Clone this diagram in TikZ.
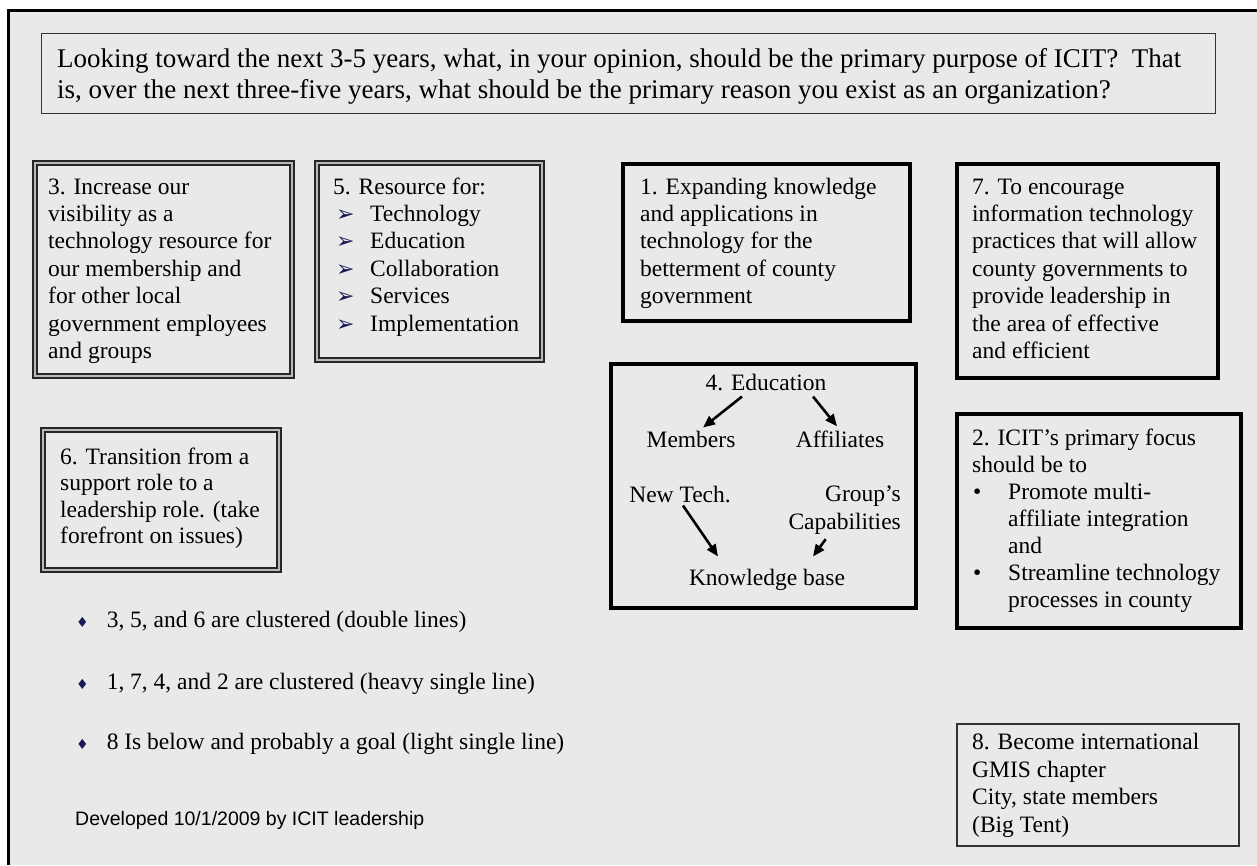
\documentclass[tikz,border=0pt]{standalone}
\usepackage{fontspec}
\setmainfont{Liberation Serif}
\newfontfamily\symfont{DejaVu Sans}
\newfontfamily\arialfont{Liberation Sans}
\usetikzlibrary{arrows.meta}
\definecolor{bg}{RGB}{233,233,233}
\definecolor{navy}{RGB}{25,25,85}
\newcommand{\arrbul}{{\symfont\fontsize{22}{22}\selectfont\color{navy}➢}}
\newcommand{\dotbul}{\makebox[36pt][l]{\hspace{1pt}•}}
\newcommand{\dia}{{\symfont\fontsize{14}{14}\selectfont\color{navy}♦}}
\begin{document}
\begin{tikzpicture}[x=1pt,y=-1pt,
  txt/.style={anchor=base west, inner sep=0pt, align=left, font=\fontsize{23.5}{27.4}\selectfont},
  lbl/.style={anchor=base, inner sep=2pt, align=center, font=\fontsize{23.5}{27.4}\selectfont},
  dbl/.style={draw=black!85, line width=1.7pt, double=gray!55, double distance=2pt},
  heavy/.style={draw=black, line width=4pt},
  light/.style={draw=black!80, line width=1.5pt},
  arr/.style={-{Triangle[length=12pt,width=10pt]}, line width=2.6pt}]
\useasboundingbox (0,0) rectangle (1257,865);
\fill[white] (0,0) rectangle (1257,865);
\fill[bg] (8,10) rectangle (1257,865);
\draw[line width=3pt] (8.5,865) -- (8.5,10.5) -- (1257,10.5);

% title (base anchor = last line)
\draw[light] (41.5,33.5) rectangle (1215.5,113.5);
\node[txt, font=\fontsize{27}{31}\selectfont] (title) at (57,98)
  {Looking toward the next 3-5 years, what, in your opinion, should be the primary purpose of ICIT?\ \ That\\
   is, over the next three-five years, what should be the primary reason you exist as an organization?};

% box 3
\draw[dbl] (35,163) rectangle (292,376);
\node[txt] (b3) at (48,358.4) {3. Increase our\\visibility as a\\technology resource for\\our membership and\\for other local\\government employees\\and groups};

% box 5
\draw[dbl] (317,163) rectangle (542,360);
\node[txt] (b5) at (333,331) {5. Resource for:\\
  \hspace*{3pt}\makebox[34pt][l]{\arrbul}Technology\\
  \hspace*{3pt}\makebox[34pt][l]{\arrbul}Education\\
  \hspace*{3pt}\makebox[34pt][l]{\arrbul}Collaboration\\
  \hspace*{3pt}\makebox[34pt][l]{\arrbul}Services\\
  \hspace*{3pt}\makebox[34pt][l]{\arrbul}Implementation};

% box 1
\draw[heavy] (623,164) rectangle (910,321);
\node[txt] (b1) at (640,303.6) {1. Expanding knowledge\\and applications in\\technology for the\\betterment of county\\government};

% box 7
\draw[heavy] (957,164) rectangle (1218,378);
\node[txt] (b7) at (972,358.4) {7. To encourage\\information technology\\practices that will allow\\county governments to\\provide leadership in\\the area of effective\\and efficient};

% box 6
\draw[dbl] (43,430) rectangle (279,570);
\node[txt, font=\fontsize{23.5}{26.5}\selectfont] (b6) at (60,543.5) {6. Transition from a\\support role to a\\leadership role. (take\\forefront on issues)};

% box 4
\draw[heavy, line width=3.5pt] (611,364) rectangle (916,608);
\node[lbl] (edu) at (766,390) {4. Education};
\node[lbl] (mem) at (691,447) {Members};
\node[lbl] (aff) at (840,447) {Affiliates};
\node[lbl] (newt) at (680,502) {New Tech.};
\node[lbl, anchor=base east, align=right] (grp) at (903,529) {Group’s\\Capabilities};
\node[lbl] (kb) at (767,585) {Knowledge base};
\draw[arr] ([xshift=-24pt,yshift=-4pt]edu.south) -- ([xshift=12pt,yshift=1pt]mem.north);
\draw[arr] ([xshift=47pt,yshift=-4pt]edu.south) -- ([xshift=-3pt,yshift=2pt]aff.north);
\draw[arr] ([xshift=3pt,yshift=-1pt]newt.south) -- ([xshift=-49pt,yshift=10pt]kb.north);
\draw[arr] ([xshift=-19pt,yshift=-3pt]grp.south) -- ([xshift=46pt,yshift=10pt]kb.north);

% box 2
\draw[heavy] (957,414) rectangle (1241,628);
\node[txt, font=\fontsize{23.5}{27}\selectfont] (b2) at (972,607) {2. ICIT’s primary focus\\should be to\\
  \dotbul Promote multi-\\\hspace*{36pt}affiliate integration\\\hspace*{36pt}and\\
  \dotbul Streamline technology\\\hspace*{36pt}processes in county};

% box 8
\draw[light] (957,724) rectangle (1239,846);
\node[txt] (b8) at (972,832) {8. Become international\\GMIS chapter\\City, state members\\(Big Tent)};

% notes
\node[txt] (n1) at (76,627) {\dia\hspace{18pt}3, 5, and 6 are clustered (double lines)};
\node[txt] (n2) at (76,689) {\dia\hspace{18pt}1, 7, 4, and 2 are clustered (heavy single line)};
\node[txt] (n3) at (76,749) {\dia\hspace{18pt}8 Is below and probably a goal (light single line)};
\node[txt, font=\arialfont\fontsize{19.5}{22}\selectfont] (dev) at (75,825) {Developed 10/1/2009 by ICIT leadership};
\end{tikzpicture}
\end{document}
